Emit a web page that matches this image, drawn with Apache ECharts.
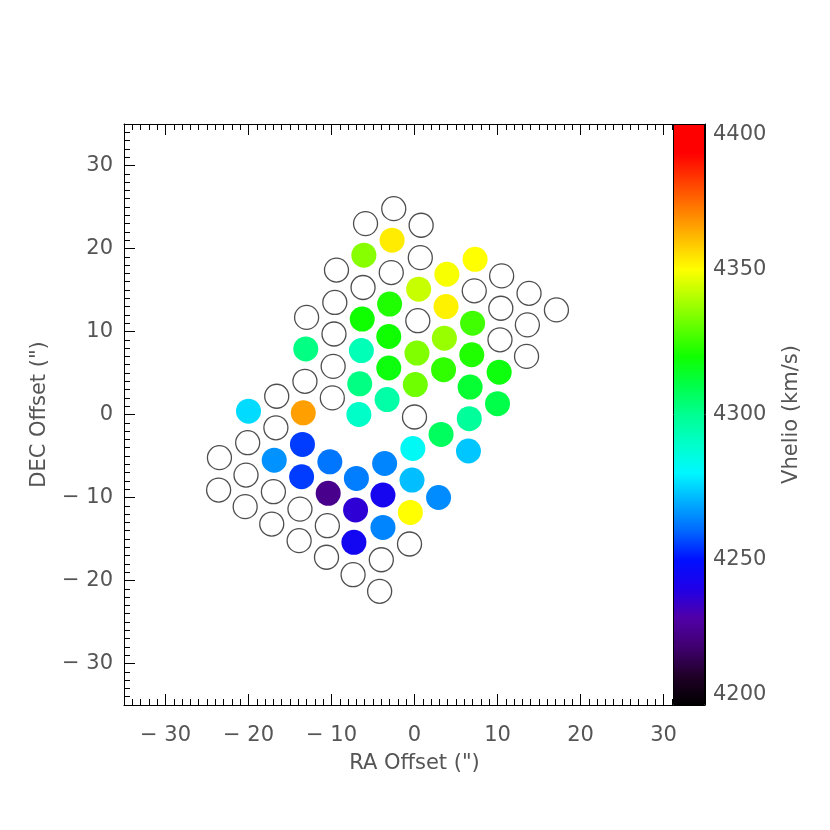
<!DOCTYPE html>
<html>
<head>
<meta charset="utf-8">
<script src="https://cdn.jsdelivr.net/npm/echarts@6/dist/echarts.min.js"></script>
<style>
  html, body { margin: 0; padding: 0; background: #fff; }
  #chart { width: 830px; height: 830px; }
</style>
</head>
<body>
<div id="chart"></div>
<script>
// fibers with a measured velocity: [RA offset, DEC offset, Vhelio]
var fibers = [
  [-2.7, 21.0, 4353], [-6.1, 19.2, 4335], [7.3, 18.7, 4350], [3.9, 16.9, 4349],
  [0.5, 15.1, 4343], [-3.0, 13.3, 4322], [3.8, 13.0, 4352], [-6.3, 11.5, 4320],
  [7.0, 11.0, 4326], [-3.1, 9.4, 4320], [3.6, 9.2, 4337], [-13.1, 7.9, 4302],
  [-6.4, 7.7, 4293], [0.3, 7.4, 4334], [6.9, 7.2, 4322], [-3.1, 5.6, 4318],
  [3.5, 5.4, 4324], [10.2, 5.1, 4318], [-6.6, 3.7, 4302], [0.1, 3.6, 4332],
  [6.7, 3.3, 4313], [-3.3, 1.8, 4296], [10.0, 1.3, 4310], [-20.0, 0.4, 4276],
  [-13.4, 0.2, 4365], [-6.7, 0.0, 4290], [6.6, -0.5, 4298], [3.2, -2.4, 4307],
  [-13.5, -3.6, 4255], [-0.2, -4.1, 4282], [6.5, -4.4, 4273], [-16.9, -5.5, 4266],
  [-10.2, -5.7, 4262], [-3.6, -5.9, 4264], [-13.6, -7.5, 4255], [-7.0, -7.7, 4263],
  [-0.3, -7.9, 4272], [-10.4, -9.5, 4225], [-3.8, -9.7, 4243], [2.9, -10.0, 4265],
  [-7.1, -11.5, 4237], [-0.5, -11.8, 4350], [-3.8, -13.6, 4264], [-7.3, -15.4, 4244]
];

// fibers without a measurement: [RA offset, DEC offset]
var emptyFibers = [
  [-2.5, 24.8], [-5.9, 23.0], [0.8, 22.8], [0.7, 18.9], [-9.4, 17.4], [-2.8, 17.1],
  [10.5, 16.7], [7.2, 14.9], [13.8, 14.6], [-6.2, 15.3], [-9.6, 13.5], [10.4, 12.8],
  [17.1, 12.6], [-13.0, 11.7], [0.4, 11.3], [13.6, 10.8], [-9.7, 9.7], [10.3, 9.0],
  [13.5, 7.0], [-9.8, 5.8], [-13.2, 4.0], [-16.6, 2.2], [-9.9, 2.0], [0.0, -0.3],
  [-16.7, -1.6], [-20.1, -3.4], [-23.5, -5.2], [-20.3, -7.3], [-23.6, -9.1], [-17.0, -9.3],
  [-20.4, -11.1], [-13.8, -11.4], [-17.2, -13.2], [-10.5, -13.4], [-13.9, -15.2], [-0.6, -15.6],
  [-10.6, -17.2], [-4.0, -17.5], [-7.4, -19.3], [-4.2, -21.3]
];

var vRange = [4200, 4400];
var offsetRange = [-35, 35];

// colour table, 4200 -> 4400 in steps of 10
var cmap = [
  "#000000", "#200028", "#400070", "#5000a8", "#2000e8", "#0010ff", "#0068ff",
  "#00b0ff", "#00f8ff", "#00ffc8", "#00ff90", "#00ff48", "#10ff00", "#60ff00",
  "#b0ff00", "#ffff00", "#ffc000", "#ff8000", "#ff4000", "#ff0000", "#ff0000"
];

var font = "DejaVu Sans";
var textColor = "#555";

function fmt(v) {
  return v < 0 ? "\u2212 " + Math.abs(v) : String(v);
}

function majorAxis(pos, showLabel, extra) {
  var a = {
    gridIndex: 0,
    type: "value",
    min: offsetRange[0],
    max: offsetRange[1],
    splitNumber: 7,
    position: pos,
    axisLine: { show: true, onZero: false, lineStyle: { color: "#000", width: 1 } },
    axisTick: { show: true, inside: true, length: 11, lineStyle: { color: "#000", width: 1 } },
    axisLabel: {
      show: showLabel,
      showMinLabel: false,
      showMaxLabel: false,
      formatter: fmt,
      fontFamily: font,
      fontSize: 21,
      color: textColor,
      margin: 20
    },
    splitLine: { show: false }
  };
  return Object.assign(a, extra || {});
}

function minorAxis(pos) {
  return {
    gridIndex: 0,
    type: "value",
    min: offsetRange[0],
    max: offsetRange[1],
    interval: 1,
    position: pos,
    axisLine: { show: false, onZero: false },
    axisTick: { show: true, inside: true, length: 6, lineStyle: { color: "#000", width: 1 } },
    axisLabel: { show: false },
    splitLine: { show: false }
  };
}

var nameStyle = { fontFamily: font, fontSize: 21, color: textColor };

var stops = cmap.map(function (c, i) {
  return { offset: i / (cmap.length - 1), color: c };
});

var chart = echarts.init(document.getElementById("chart"), null, { renderer: "canvas" });

var option = {
  backgroundColor: "#fff",
  animation: false,
  grid: [
    { left: 124, top: 124, width: 581, height: 581 },
    { left: 673, top: 124, width: 32, height: 581 }
  ],
  xAxis: [
    majorAxis("bottom", true, {
      name: "RA Offset (\")",
      nameLocation: "middle",
      nameGap: 48,
      nameTextStyle: nameStyle
    }),
    minorAxis("bottom"),
    majorAxis("top", false),
    minorAxis("top"),
    { gridIndex: 1, type: "category", data: [""], show: false }
  ],
  yAxis: [
    majorAxis("left", true, {
      name: "DEC Offset (\")",
      nameLocation: "middle",
      nameGap: 74,
      nameTextStyle: nameStyle,
      axisLabel: {
        showMinLabel: false,
        showMaxLabel: false,
        formatter: fmt,
        fontFamily: font,
        fontSize: 21,
        color: textColor,
        margin: 11
      }
    }),
    minorAxis("left"),
    // colour bar: hidden 0..1 axis for the gradient bar
    { gridIndex: 1, type: "value", min: 0, max: 1, show: false },
    {
      gridIndex: 1,
      type: "value",
      min: vRange[0],
      max: vRange[1],
      interval: 50,
      position: "right",
      name: "Vhelio (km/s)",
      nameLocation: "middle",
      nameGap: 76,
      nameRotate: 90,
      nameTextStyle: nameStyle,
      axisLine: { show: true, lineStyle: { color: "#000", width: 1 } },
      axisTick: { show: true, inside: true, length: 5, lineStyle: { color: "#000" } },
      axisLabel: {
        formatter: function (v) { return String(v); },
        fontFamily: font,
        fontSize: 21,
        color: textColor,
        margin: 8,
        verticalAlignMaxLabel: "top",
        verticalAlignMinLabel: "bottom"
      },
      splitLine: { show: false }
    },
    {
      gridIndex: 1,
      type: "value",
      min: vRange[0],
      max: vRange[1],
      interval: 10,
      position: "right",
      axisLine: { show: false },
      axisTick: { show: true, inside: true, length: 4, lineStyle: { color: "#000" } },
      axisLabel: { show: false },
      splitLine: { show: false }
    }
  ],
  visualMap: {
    show: false,
    type: "continuous",
    min: vRange[0],
    max: vRange[1],
    dimension: 2,
    seriesIndex: 1,
    inRange: { color: cmap }
  },
  series: [
    {
      type: "scatter",
      xAxisIndex: 0,
      yAxisIndex: 0,
      symbol: "circle",
      symbolSize: 24,
      itemStyle: { color: "rgba(255,255,255,0)", borderColor: "#222", borderWidth: 1.3 },
      data: emptyFibers,
      z: 3
    },
    {
      type: "scatter",
      xAxisIndex: 0,
      yAxisIndex: 0,
      symbol: "circle",
      symbolSize: 25,
      itemStyle: { opacity: 1 },
      data: fibers,
      z: 4
    },
    {
      type: "bar",
      xAxisIndex: 4,
      yAxisIndex: 2,
      barWidth: "100%",
      silent: true,
      itemStyle: {
        color: { type: "linear", x: 0, y: 1, x2: 0, y2: 0, colorStops: stops },
        borderColor: "#000",
        borderWidth: 1
      },
      data: [1],
      z: 5
    }
  ]
};

chart.setOption(option);
</script>
</body>
</html>
